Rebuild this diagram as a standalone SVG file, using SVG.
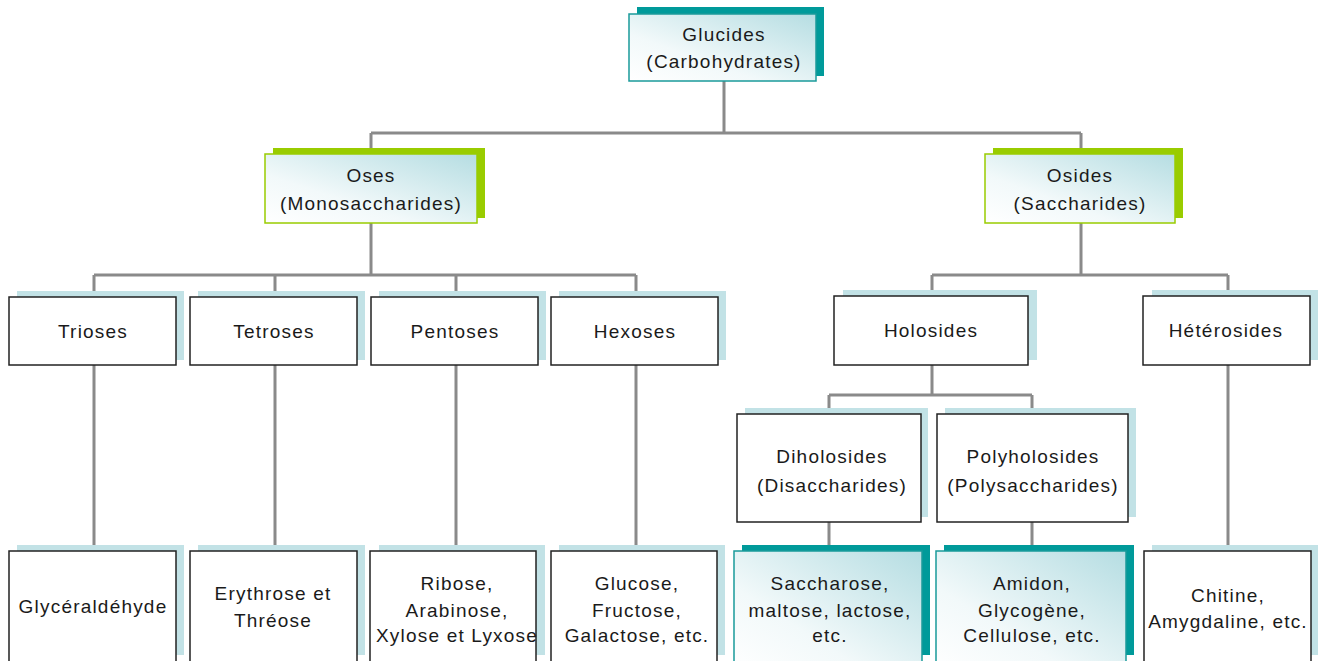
<svg xmlns="http://www.w3.org/2000/svg" width="1319" height="661" viewBox="0 0 1319 661">
<defs>
<linearGradient id="g" x1="0" y1="1" x2="1" y2="0">
<stop offset="0" stop-color="#ffffff"/>
<stop offset="0.35" stop-color="#f2f9fa"/>
<stop offset="1" stop-color="#b5dde2"/>
</linearGradient>
<style>
text{font-family:"Liberation Sans",Arial,sans-serif;font-size:19px;letter-spacing:1.2px;fill:#1a1a1a;text-anchor:middle}
.c{stroke:#8a8a8a;stroke-width:3;fill:none}
.sl{fill:#c2e2e6}
.st{fill:#009a9a}
.sg{fill:#99cc00}
.bb{fill:#fff;stroke:#222;stroke-width:1.5}
.bt{fill:url(#g);stroke:#1a9a9a;stroke-width:1.5}
.bg{fill:url(#g);stroke:#99cc00;stroke-width:1.5}
</style>
</defs>
<rect width="1319" height="661" fill="#fff"/>
<g id="connectors">
<path class="c" d="M724 81V133M371 133H1081M371 133V154M1081 133V154"/>
<path class="c" d="M371 223V275M94 275H636M94 275V297M275 275V297M456 275V297M636 275V297"/>
<path class="c" d="M94 365V551M275 365V551M456 365V551M636 365V551"/>
<path class="c" d="M1081 223V275M932 275H1228M932 275V296M1228 275V296"/>
<path class="c" d="M932 365V395M829 395H1032M829 395V414M1032 395V414"/>
<path class="c" d="M829 522V551M1032 522V551M1228 365V551"/>
</g>
<g id="glucides">
<rect class="st" x="637" y="7" width="187" height="69"/>
<rect class="bt" x="629" y="14" width="187" height="67"/>
<text x="724" y="41">Glucides</text>
<text x="724" y="68">(Carbohydrates)</text>
</g>
<g id="oses">
<rect class="sg" x="273" y="148" width="212" height="70"/>
<rect class="bg" x="265" y="154" width="212" height="69"/>
<text x="371" y="182">Oses</text>
<text x="371" y="210">(Monosaccharides)</text>
</g>
<g id="osides">
<rect class="sg" x="993" y="148" width="190" height="70"/>
<rect class="bg" x="985" y="154" width="190" height="69"/>
<text x="1080" y="182">Osides</text>
<text x="1080" y="210">(Saccharides)</text>
</g>
<g id="trioses">
<rect class="sl" x="17" y="291" width="167" height="69"/>
<rect class="bb" x="9" y="297" width="167" height="68"/>
<text x="93" y="338">Trioses</text>
</g>
<g id="tetroses">
<rect class="sl" x="198" y="291" width="167" height="69"/>
<rect class="bb" x="190" y="297" width="167" height="68"/>
<text x="274" y="338">Tetroses</text>
</g>
<g id="pentoses">
<rect class="sl" x="379" y="291" width="167" height="69"/>
<rect class="bb" x="371" y="297" width="167" height="68"/>
<text x="455" y="338">Pentoses</text>
</g>
<g id="hexoses">
<rect class="sl" x="559" y="291" width="167" height="69"/>
<rect class="bb" x="551" y="297" width="167" height="68"/>
<text x="635" y="338">Hexoses</text>
</g>
<g id="holosides">
<rect class="sl" x="843" y="290" width="194" height="70"/>
<rect class="bb" x="834" y="296" width="194" height="69"/>
<text x="931" y="337">Holosides</text>
</g>
<g id="heterosides">
<rect class="sl" x="1152" y="290" width="166" height="70"/>
<rect class="bb" x="1143" y="296" width="167" height="69"/>
<text x="1226" y="337">Hétérosides</text>
</g>
<g id="diholosides">
<rect class="sl" x="745" y="408" width="183" height="109"/>
<rect class="bb" x="737" y="414" width="184" height="108"/>
<text x="832" y="463">Diholosides</text>
<text x="832" y="492">(Disaccharides)</text>
</g>
<g id="polyholosides">
<rect class="sl" x="945" y="408" width="191" height="109"/>
<rect class="bb" x="937" y="414" width="191" height="108"/>
<text x="1033" y="463">Polyholosides</text>
<text x="1033" y="492">(Polysaccharides)</text>
</g>
<g id="glyceraldehyde">
<rect class="sl" x="17" y="545" width="167" height="110"/>
<rect class="bb" x="9" y="551" width="167" height="120"/>
<text x="93" y="613">Glycéraldéhyde</text>
</g>
<g id="erythrose">
<rect class="sl" x="198" y="545" width="167" height="110"/>
<rect class="bb" x="190" y="551" width="167" height="120"/>
<text x="273" y="600">Erythrose et</text>
<text x="273" y="627">Thréose</text>
</g>
<g id="ribose">
<rect class="sl" x="379" y="545" width="166" height="110"/>
<rect class="bb" x="370" y="551" width="166" height="120"/>
<text x="457" y="590">Ribose,</text>
<text x="457" y="617">Arabinose,</text>
<text x="457" y="642">Xylose et Lyxose</text>
</g>
<g id="glucose">
<rect class="sl" x="559" y="545" width="166" height="110"/>
<rect class="bb" x="551" y="551" width="166" height="120"/>
<text x="637" y="590">Glucose,</text>
<text x="637" y="617">Fructose,</text>
<text x="637" y="642">Galactose, etc.</text>
</g>
<g id="saccharose">
<rect class="st" x="742" y="545" width="188" height="110"/>
<rect class="bt" x="734" y="551" width="188" height="120"/>
<text x="830" y="590">Saccharose,</text>
<text x="830" y="617">maltose, lactose,</text>
<text x="830" y="642">etc.</text>
</g>
<g id="amidon">
<rect class="st" x="944" y="545" width="190" height="110"/>
<rect class="bt" x="936" y="551" width="190" height="120"/>
<text x="1032" y="590">Amidon,</text>
<text x="1032" y="617">Glycogène,</text>
<text x="1032" y="642">Cellulose, etc.</text>
</g>
<g id="chitine">
<rect class="sl" x="1152" y="545" width="166" height="110"/>
<rect class="bb" x="1144" y="551" width="167" height="120"/>
<text x="1228" y="602">Chitine,</text>
<text x="1228" y="628">Amygdaline, etc.</text>
</g>
</svg>
